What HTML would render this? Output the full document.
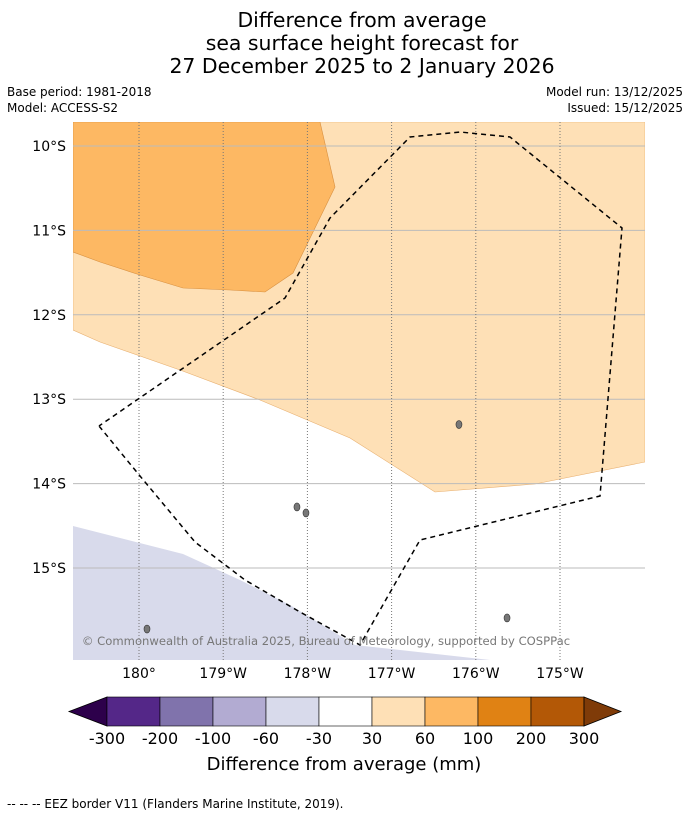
<!DOCTYPE html>
<html><head><meta charset="utf-8"><style>
body{margin:0;background:#fff;font-family:"Liberation Sans","DejaVu Sans",sans-serif}
</style></head><body>
<svg id="c" width="690" height="816" xmlns="http://www.w3.org/2000/svg" font-family="DejaVu Sans, Liberation Sans, sans-serif">
<g font-size="20.4" text-anchor="middle" fill="#000">
<text x="362" y="27">Difference from average</text>
<text x="362" y="50">sea surface height forecast for</text>
<text x="362" y="73">27 December 2025 to 2 January 2026</text>
</g>
<g font-size="12" fill="#000">
<text x="7" y="96">Base period: 1981-2018</text>
<text x="7" y="112">Model: ACCESS-S2</text>
<text x="683" y="96" text-anchor="end">Model run: 13/12/2025</text>
<text x="683" y="112" text-anchor="end">Issued: 15/12/2025</text>
</g>
<defs><clipPath id="mc"><rect x="73" y="122" width="572" height="538"/></clipPath></defs>
<g id="map" clip-path="url(#mc)"></g>
<g id="axes"></g>
<g id="cbar"></g>
<text x="344" y="770" font-size="18" text-anchor="middle">Difference from average (mm)</text>
<text x="7" y="808" font-size="12">--  --  -- EEZ border V11 (Flanders Marine Institute, 2019).</text>
</svg>
<script>
const lonTicks=[180,181,182,183,184,185];
const lonLabels=["180°","179°W","178°W","177°W","176°W","175°W"];
const latTicks=[10,11,12,13,14,15];
const latLabels=["10°S","11°S","12°S","13°S","14°S","15°S"];
const levels=["-300","-200","-100","-60","-30","30","60","100","200","300"];
const levelColors=["#542788","#8073ac","#b2abd2","#d8daeb","#ffffff","#fee0b6","#fdb863","#e08214","#b35806"];
const underColor="#2d004b", overColor="#7f3b08";
const regionHigh=[[179.216,9.716],[182.15,9.716],[182.328,10.486],[181.829,11.505],[181.496,11.73],[181.081,11.706],[180.523,11.682],[180.012,11.528],[179.537,11.374],[179.216,11.256]];
const regionMid=[[179.216,9.716],[186.01,9.716],[186.01,13.744],[184.703,14.005],[183.515,14.1],[182.506,13.46],[181.437,13.009],[180.487,12.654],[179.537,12.322],[179.216,12.18]];
const regionLow=[[179.216,14.502],[180.523,14.834],[181.2,15.142],[181.793,15.438],[182.565,15.912],[184.169,16.09],[179.216,16.09]];
const eez=[[179.525,13.318],[180.012,13.91],[180.665,14.692],[181.259,15.142],[181.912,15.521],[182.625,15.912],[183.337,14.668],[185.475,14.147],[185.736,10.972],[184.406,9.893],[183.812,9.834],[183.219,9.893],[182.268,10.853],[181.734,11.801],[179.525,13.318]];
const islands=[[183.80,13.3],[181.876,14.277],[181.983,14.348],[184.371,15.592],[180.095,15.723]];
const X=l=>139+(l-180)*84.2, Y=t=>146+(t-10)*84.4;
const NS="http://www.w3.org/2000/svg";
function mk(tag,attrs,parent){const e=document.createElementNS(NS,tag);for(const k in attrs)e.setAttribute(k,attrs[k]);parent.appendChild(e);return e;}
const map=document.getElementById('map'),axes=document.getElementById('axes'),cb=document.getElementById('cbar');
const pts=a=>a.map(p=>X(p[0]).toFixed(1)+','+Y(p[1]).toFixed(1)).join(' ');
let r=mk('polygon',{points:pts(regionMid),fill:"#fee0b6",stroke:"#e8b070","stroke-width":0.6},map);


r=mk('polygon',{points:pts(regionHigh),fill:"#fdb863",stroke:"#d89040","stroke-width":0.6},map);


r=mk('polygon',{points:pts(regionLow),fill:"#d8daeb"},map);


latTicks.forEach((t,i)=>{
 const g=mk('line',{x1:73,x2:645,y1:Y(t),y2:Y(t),stroke:"#bbb","stroke-width":1},map);
 
 
 const tx=mk('text',{x:66,y:Y(t)+5,"font-size":14,"text-anchor":"end"},axes);tx.textContent=latLabels[i];
 
 
});
lonTicks.forEach((l,i)=>{
 const g=mk('line',{x1:X(l),x2:X(l),y1:122,y2:660,stroke:"#777","stroke-width":1,"stroke-dasharray":"1,2"},map);
 
 
 const tx=mk('text',{x:X(l),y:678,"font-size":14,"text-anchor":"middle"},axes);tx.textContent=lonLabels[i];
 
 
});
islands.forEach(p=>{const e=mk('ellipse',{cx:X(p[0]),cy:Y(p[1]),rx:3,ry:4,fill:"#777",stroke:"#333","stroke-width":0.6},map);
 
 });
const ez=mk('polyline',{points:pts(eez),fill:"none",stroke:"#000","stroke-width":1.5,"stroke-dasharray":"5,4"},map);


const cp=mk('text',{x:326,y:645,"font-size":11.6,"text-anchor":"middle",fill:"#777"},map);
cp.textContent="© Commonwealth of Australia 2025, Bureau of Meteorology, supported by COSPPac";


const cx0=107,cw=53,cy0=697,ch=29;
let a=mk('polygon',{points:`${cx0},${cy0} 69,${cy0+ch/2} ${cx0},${cy0+ch}`,fill:underColor,stroke:"#000","stroke-width":0.8},cb);


levelColors.forEach((c,i)=>{const b=mk('rect',{x:cx0+i*cw,y:cy0,width:cw,height:ch,fill:c,stroke:"#000","stroke-width":0.6},cb);
 
 });
const xe=cx0+levelColors.length*cw;
a=mk('polygon',{points:`${xe},${cy0} 621,${cy0+ch/2} ${xe},${cy0+ch}`,fill:overColor,stroke:"#000","stroke-width":0.8},cb);


levels.forEach((lv,i)=>{const t=mk('text',{x:cx0+i*cw,y:744,"font-size":16,"text-anchor":"middle"},cb);t.textContent=lv;
 
 });
</script>
</body></html>
